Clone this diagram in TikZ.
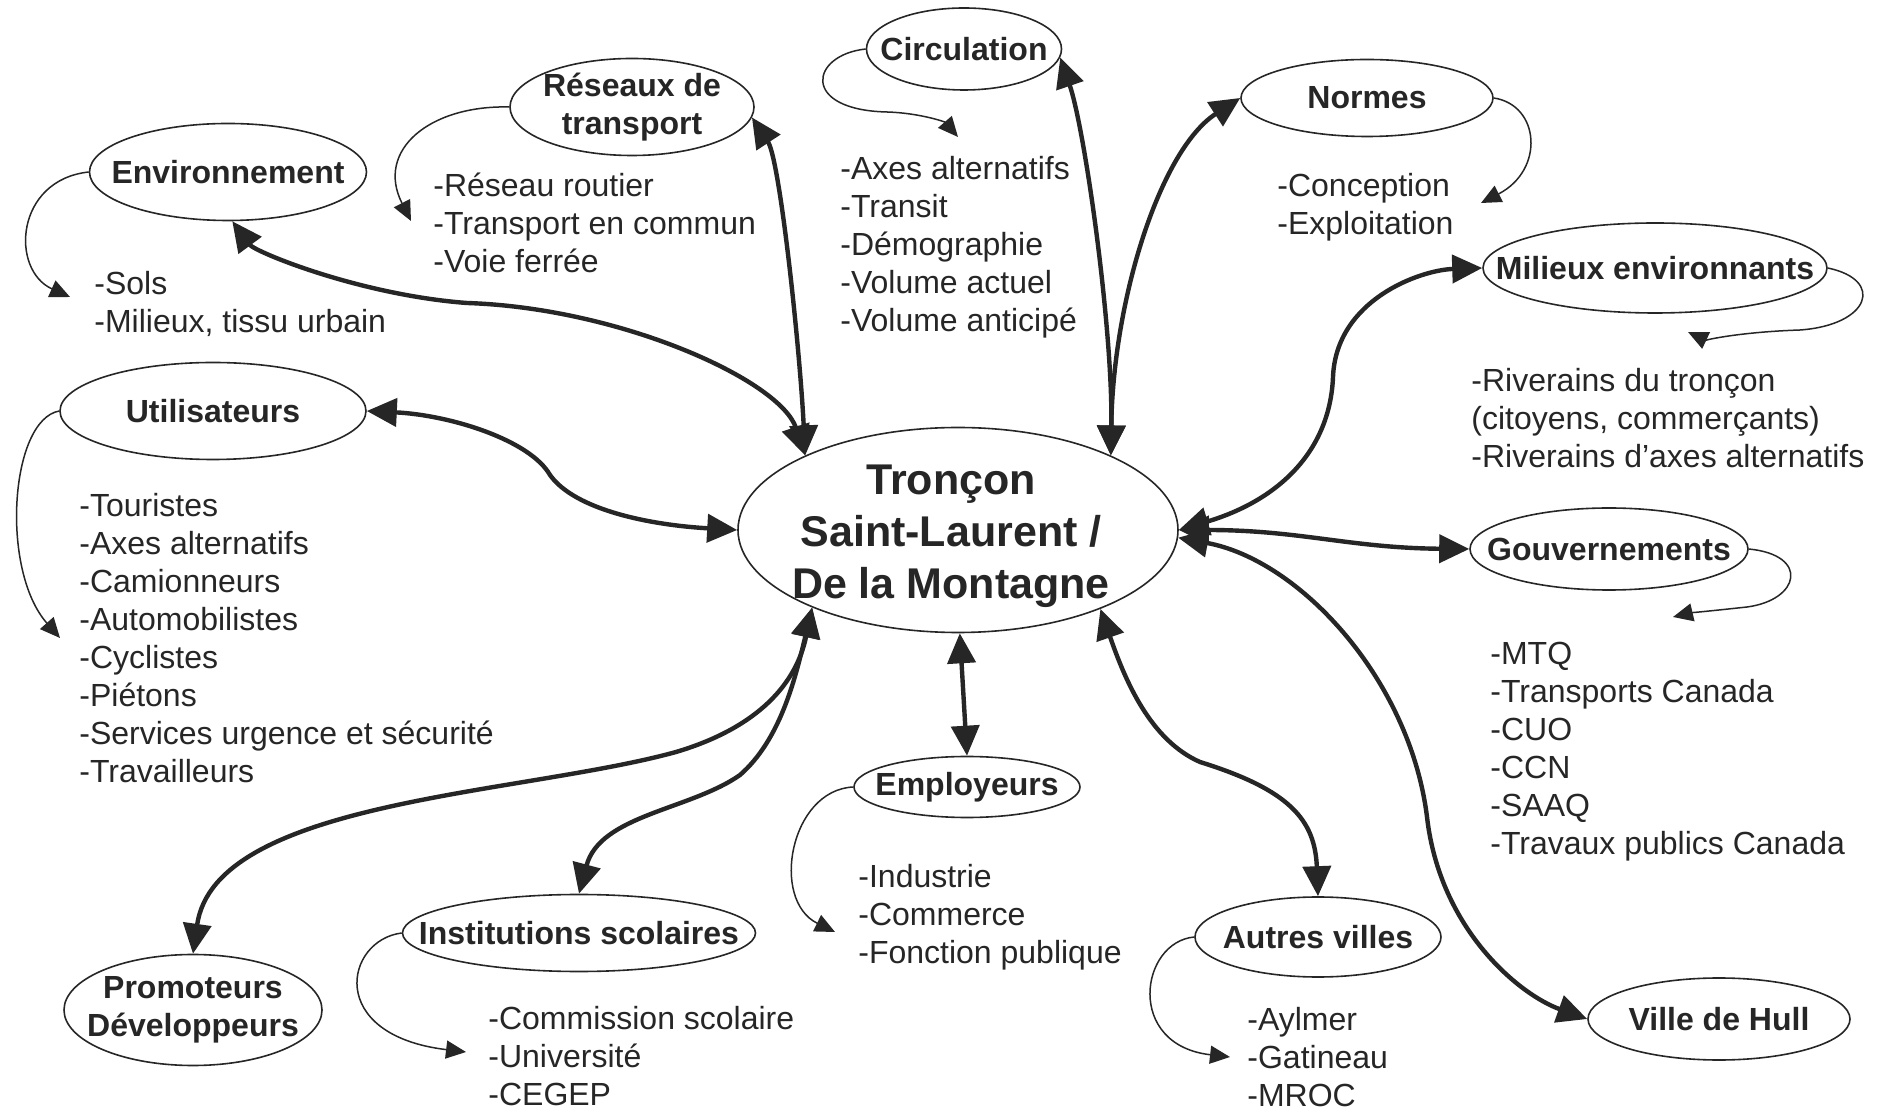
\documentclass[tikz,border=0pt]{standalone}
\usepackage{fontspec}
\setmainfont{Liberation Sans}
\usetikzlibrary{arrows.meta,shapes.geometric}
\definecolor{ink}{gray}{0.15}
\begin{document}
\begin{tikzpicture}[x=0.5pt,y=-0.5pt,
  sz/.style 2 args={minimum width=#1*0.5pt, minimum height=#2*0.5pt},
  bub/.style={ellipse, draw=ink, line width=0.8pt, inner sep=0pt, fill=white},
  lbl/.style={font=\bfseries\fontsize{16}{19}\selectfont, text=ink, align=center, inner sep=0pt},
  lst/.style={font=\fontsize{16}{19}\selectfont, align=left, anchor=north west,
    inner sep=0pt, text=ink},
  big/.style={draw=ink, line width=2.2pt,
    {Triangle[length=15pt,width=14pt]}-{Triangle[length=15pt,width=14pt]}},
  curl/.style={draw=ink, line width=0.75pt, -{Triangle[length=10pt,width=9pt]}},
]
\useasboundingbox[fill=white] (0,0) rectangle (1880,1111);

% ---- nodes ----
\node[bub, sz={440}{205}, label={[lbl, font=\bfseries\fontsize{21.5}{26}\selectfont, xshift=-3.5pt, yshift=-3pt]center:Tronçon\\Saint-Laurent /\\De la Montagne}] (ctr) at (958,530) {};
\node[bub, sz={277}{97},  label={[lbl]center:Environnement}] (env) at (228,172) {};
\node[bub, sz={244}{97},  label={[lbl]center:Réseaux de\\transport}] (res) at (632,107) {};
\node[bub, sz={195}{82},  label={[lbl]center:Circulation}] (circ) at (964,49) {};
\node[bub, sz={252}{77},  label={[lbl]center:Normes}] (norm) at (1367,98) {};
\node[bub, sz={344}{90},  label={[lbl]center:Milieux environnants}] (mil) at (1655,268) {};
\node[bub, sz={306}{97},  label={[lbl]center:Utilisateurs}] (util) at (213,411) {};
\node[bub, sz={278}{82},  label={[lbl]center:Gouvernements}] (gouv) at (1609,549) {};
\node[bub, sz={226}{61},  label={[lbl]center:Employeurs}] (empl) at (967,787) {};
\node[bub, sz={353}{77},  label={[lbl]center:Institutions scolaires}] (inst) at (579,933) {};
\node[bub, sz={258}{111}, label={[lbl]center:Promoteurs\\Développeurs}] (prom) at (193,1010) {};
\node[bub, sz={246}{80},  label={[lbl]center:Autres villes}] (autr) at (1318,937) {};
\node[bub, sz={262}{82},  label={[lbl]center:Ville de Hull}] (hull) at (1719,1019) {};

% ---- lists ----
\node[lst] (envL)  at (94,268)   {\strut-Sols\\-Milieux, tissu urbain};
\node[lst] (resL)  at (433,170)  {\strut-Réseau routier\\-Transport en commun\\-Voie ferrée};
\node[lst] (circL) at (840,153)  {\strut-Axes alternatifs\\-Transit\\-Démographie\\-Volume actuel\\-Volume anticipé};
\node[lst] (normL) at (1277,170) {\strut-Conception\\-Exploitation};
\node[lst] (milL)  at (1471,365) {\strut-Riverains du tronçon\\(citoyens, commerçants)\\-Riverains d’axes alternatifs};
\node[lst] (utilL) at (79,490)   {\strut-Touristes\\-Axes alternatifs\\-Camionneurs\\-Automobilistes\\-Cyclistes\\-Piétons\\-Services urgence et sécurité\\-Travailleurs};
\node[lst] (gouvL) at (1490,638) {\strut-MTQ\\-Transports Canada\\-CUO\\-CCN\\-SAAQ\\-Travaux publics Canada};
\node[lst] (emplL) at (858,861)  {\strut-Industrie\\-Commerce\\-Fonction publique};
\node[lst] (instL) at (488,1002) {\strut-Commission scolaire\\-Université\\-CEGEP};
\node[lst] (autrL) at (1247,1003) {\strut-Aylmer\\-Gatineau\\-MROC};

% ---- curl end points ----
\coordinate (envH)  at (70,297);
\coordinate (resH)  at (411,221);
\coordinate (circH) at (958,137);
\coordinate (normH) at (1481,203);
\coordinate (milH)  at (1688,332);
\coordinate (utilH) at (60,638);
\coordinate (gouvH) at (1673,617);
\coordinate (emplH) at (835,932);
\coordinate (instH) at (466,1052);
\coordinate (autrH) at (1230,1057);

% ---- curl arrows ----
\draw[curl] (env.west) .. controls (15,180) and (10,270) .. (envH);
\draw[curl] (res.west) .. controls (430,105) and (375,150) .. (resH);
\draw[curl] (circ.west) .. controls (810,55) and (800,110) .. (887,112)
            .. controls (920,113) and (945,122) .. (circH);
\draw[curl] (norm.east) .. controls (1540,105) and (1545,170) .. (normH);
\draw[curl] (mil.east) .. controls (1885,280) and (1870,325) .. (1800,330)
            .. controls (1740,332) and (1705,340) .. (milH);
\draw[curl] (util.west) .. controls (10,420) and (0,570) .. (utilH);
\draw[curl] (gouv.east) .. controls (1810,555) and (1800,600) .. (1747,607)
            .. controls (1710,611) and (1690,613) .. (gouvH);
\draw[curl] (empl.west) .. controls (790,790) and (770,900) .. (emplH);
\draw[curl] (inst.west) .. controls (345,940) and (325,1035) .. (instH);
\draw[curl] (autr.west) .. controls (1140,942) and (1125,1045) .. (autrH);

% ---- main arrows ----
\draw[big] (env.-85) .. controls (255,252) and (360,295) .. (467,303)
           .. controls (620,308) and (780,380) .. (ctr.154);
\draw[big] (res.-5) .. controls (780,160) and (800,350) .. (ctr.154);
\draw[big] (circ.-5) .. controls (1085,130) and (1113,330) .. (ctr.26);
\draw[big] (ctr.26) .. controls (1113,300) and (1160,150) .. (norm.west);
\draw[big] (ctr.east) .. controls (1280,500) and (1330,450) .. (1333,377)
           .. controls (1336,300) and (1420,270) .. (mil.west);
\draw[big] (ctr.east) .. controls (1300,530) and (1350,548) .. (gouv.west);
\draw[big] (ctr.-2) .. controls (1300,560) and (1410,680) .. (1427,817)
           .. controls (1440,930) and (1520,995) .. (hull.west);
\draw[big] (ctr.-29) .. controls (1125,680) and (1150,740) .. (1200,762)
           .. controls (1290,790) and (1315,820) .. (autr.north);
\draw[big] (ctr.-89) -- (empl.north);
\draw[big] (ctr.208) .. controls (795,680) and (780,740) .. (740,775)
           .. controls (690,810) and (600,815) .. (inst.north);
\draw[big] (ctr.208) .. controls (795,690) and (750,730) .. (676,752)
           .. controls (520,795) and (215,800) .. (prom.north);
\draw[big] (util.east) .. controls (450,415) and (530,440) .. (550,475)
           .. controls (575,510) and (650,525) .. (ctr.west);
\end{tikzpicture}
\end{document}
